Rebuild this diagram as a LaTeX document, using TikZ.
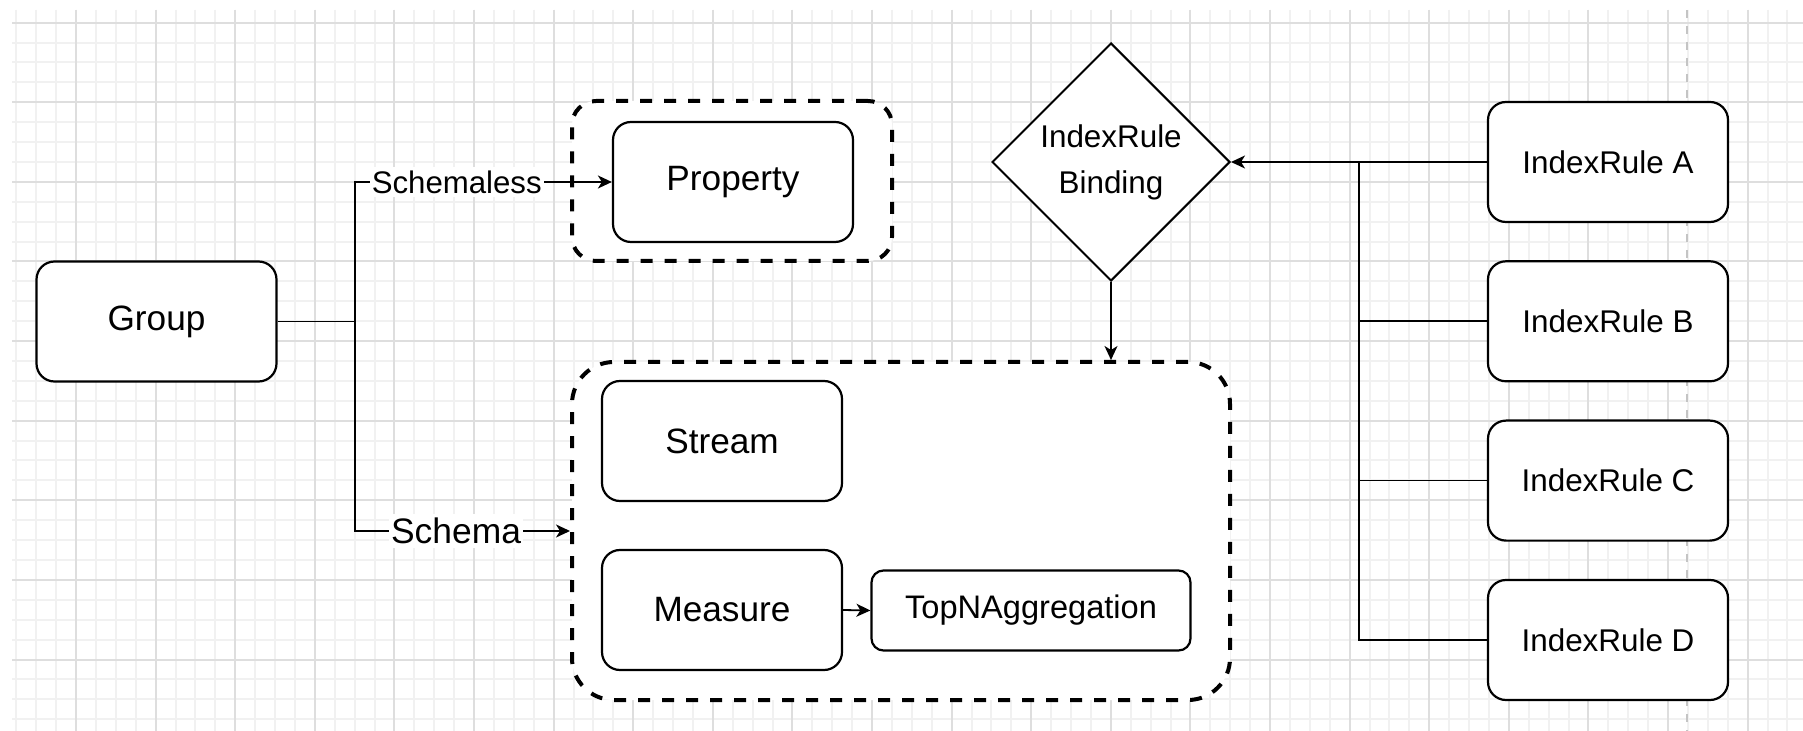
\documentclass[tikz,border=0pt]{standalone}
\usepackage{fontspec}
\setmainfont{Liberation Sans}
\usetikzlibrary{shapes.geometric,arrows.meta}
\definecolor{minorgrid}{HTML}{F1F1F1}
\definecolor{majorgrid}{HTML}{DEDEDE}
\definecolor{pagebreak}{HTML}{C4C4C4}
\tikzset{
  box/.style={draw, fill=white, line width=1.1pt, rounded corners=9pt, minimum width=120pt, minimum height=60pt, inner sep=0pt, font=\fontsize{17.6}{21}\selectfont},
  rulebox/.style={box, font=\fontsize{15.7}{19}\selectfont},
  smallbox/.style={box, rounded corners=6pt, minimum width=159.5pt, minimum height=40pt, font=\fontsize{16.3}{19}\selectfont},
  grpbox/.style={draw, fill=white, line width=2pt, dash pattern=on 6pt off 6pt, inner sep=0pt},
  decision/.style={draw, fill=white, diamond, line width=1pt, minimum width=119pt, minimum height=119pt, inner sep=0pt, align=center, font=\fontsize{15.7}{23}\selectfont},
  conn/.style={line width=0.9pt},
  arr/.style={conn, -{Stealth[length=7pt,width=6.5pt,inset=2pt]}},
  lbl/.style={fill=white, inner xsep=1pt, inner ysep=2pt},
}
\begin{document}
\begin{tikzpicture}[x=0.5pt,y=-0.5pt]
\useasboundingbox (0,0) rectangle (1803,731);
\fill[white] (0,0) rectangle (1803,731);
% background grid
\foreach \i in {0,...,89} \draw[minorgrid, line width=1pt] ({16.3+19.9*\i},10) -- ({16.3+19.9*\i},731);
\foreach \j in {0,...,35} \draw[minorgrid, line width=1pt] (12,{22.7+19.9*\j}) -- (1803,{22.7+19.9*\j});
\foreach \k in {0,...,21} \draw[majorgrid, line width=1pt] ({76+79.6*\k},10) -- ({76+79.6*\k},731);
\foreach \k in {0,...,8} \draw[majorgrid, line width=1pt] (12,{22.7+79.6*\k}) -- (1803,{22.7+79.6*\k});
\draw[pagebreak, line width=0.7pt, dash pattern=on 4pt off 4pt] (1687,10) -- (1687,731);

% containers
\node[grpbox, rounded corners=12pt, minimum width=160pt, minimum height=80pt] (propgrp) at (732,181) {};
\node[grpbox, rounded corners=21pt, minimum width=329pt, minimum height=169pt] (schemagrp) at (901,531) {};

% nodes
\node[box] (grp) at (156.5,321.5) {Group};
\node[box] (prop) at (733,182) {Property};
\node[box] (strm) at (722,441) {Stream};
\node[box] (meas) at (722,610) {Measure};
\node[smallbox] (topn) at (1031,610.5) {TopNAggregation};
\node[decision] (bind) at (1111,162) {IndexRule\\Binding};
\node[rulebox] (ruleA) at (1608,162) {IndexRule A};
\node[rulebox] (ruleB) at (1608,321.3) {IndexRule B};
\node[rulebox] (ruleC) at (1608,480.6) {IndexRule C};
\node[rulebox] (ruleD) at (1608,640) {IndexRule D};

% left connectors
\coordinate (js) at (355,321.5);
\draw[conn] (grp.east) -- (js);
\draw[arr] (js) |- (prop.west) node[lbl, pos=0.698, font=\fontsize{15.6}{18}\selectfont] {Schemaless};
\draw[arr] (js) |- (schemagrp.west) node[lbl, pos=0.735, font=\fontsize{17.7}{20}\selectfont] {Schema};

% inner connector
\draw[arr] (meas.east) -- (topn.west);

% binding connector
\draw[arr] (bind.south) -- (bind.south |- schemagrp.north);

% right connectors
\coordinate (jn) at (1359,162);
\draw[arr] (ruleA.west) -- (bind.east);
\draw[conn] (ruleB.west) -| (jn);
\draw[conn] (ruleC.west) -| (jn);
\draw[conn] (ruleD.west) -| (jn);
\end{tikzpicture}
\end{document}
